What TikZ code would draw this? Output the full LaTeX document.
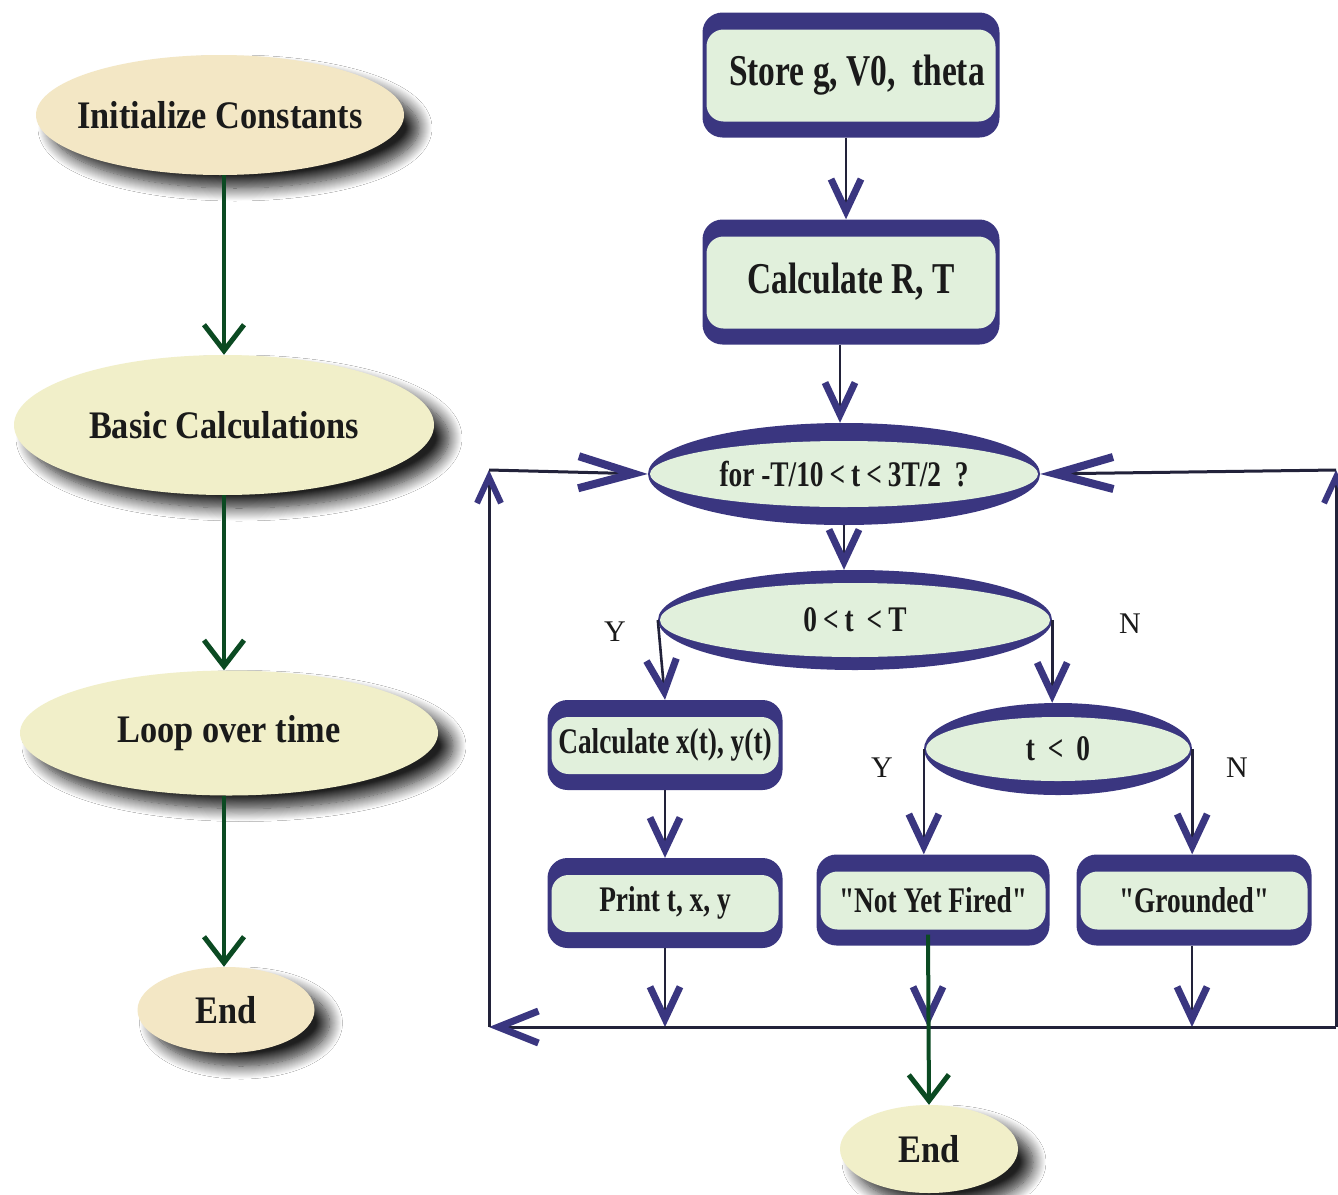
\documentclass[tikz,border=0pt]{standalone}
\usepackage{fontspec}
\setmainfont{Liberation Serif}
\newfontfamily\lfont[FakeStretch=0.88]{Liberation Serif}
\newfontfamily\rfont[FakeStretch=0.76]{Liberation Serif}
\usetikzlibrary{shapes.geometric,arrows.meta,shadows.blur,calc}
\definecolor{navy}{HTML}{3A3680}
\definecolor{mint}{HTML}{E1F0DC}
\definecolor{beige}{HTML}{F3E7C5}
\definecolor{cream}{HTML}{F1EFC9}
\definecolor{dkgreen}{HTML}{0B4A22}
\definecolor{lineblk}{HTML}{22223A}
\definecolor{txt}{HTML}{1A1A1A}
\tikzset{
  lell/.style={ellipse, inner sep=0pt, text=txt, font=\lfont\bfseries\fontsize{39}{44}\selectfont,
    blur shadow={shadow xshift=15pt, shadow yshift=-13pt, shadow blur radius=13pt, shadow blur steps=14, shadow opacity=88}},
  dbox/.style={rectangle, rounded corners=20pt, fill=navy, inner sep=0pt, text=txt,
    font=\rfont\bfseries\fontsize{36}{40}\selectfont,
    path picture={\fill[mint, rounded corners=17pt]
      ([xshift=4pt,yshift=16pt]path picture bounding box.south west) rectangle
      ([xshift=-4pt,yshift=-17pt]path picture bounding box.north east);}},
  dell/.style 2 args={ellipse, fill=navy, inner sep=0pt, text=txt,
    font=\rfont\bfseries\fontsize{36}{40}\selectfont,
    path picture={\fill[mint] (path picture bounding box.center) ellipse [x radius=#1, y radius=#2];}},
  yn/.style={font=\rmfamily\fontsize{30}{34}\selectfont, text=txt, inner sep=0pt},
  garr/.style={draw=dkgreen, line width=4pt, -{Straight Barb[length=26pt,width=40pt,line width=5pt 0]}},
  narr/.style={draw=lineblk, line width=2.6pt, -{Straight Barb[length=32pt,width=30pt,line width=7pt 0,color=navy]}},
  lpline/.style={draw=lineblk, line width=3pt},
}
\newcommand{\zw}[1]{\makebox[0pt]{#1}}
\begin{document}
\begin{tikzpicture}[x=1pt,y=-1pt]
\useasboundingbox (0,0) rectangle (1338,1194);
\fill[white] (0,0) rectangle (1338,1194);

% left column
\node[lell, fill=beige, minimum width=368pt, minimum height=120pt] (init) at (220,115) {\zw{Initialize Constants}};
\node[lell, fill=cream, minimum width=420pt, minimum height=140pt] (basic) at (224,425) {\zw{Basic Calculations}};
\node[lell, fill=cream, minimum width=418pt, minimum height=125pt] (loop) at (229,733) {\zw{Loop over time}};
\node[lell, fill=beige, minimum width=177pt, minimum height=86pt] (endl) at (226,1010) {\zw{End}};
\coordinate (gx) at (224,0);
\draw[garr] (gx |- init.south) -- (gx |- basic.north);
\draw[garr] (gx |- basic.south) -- (gx |- loop.north);
\draw[garr] (gx |- loop.south) -- (gx |- endl.north);

% right column
\node[dbox, minimum width=297pt, minimum height=125pt, font=\rfont\bfseries\fontsize{44}{48}\selectfont] (store) at (851,75) {\hspace*{12pt}Store g, V0,\ \ theta};
\node[dbox, minimum width=297pt, minimum height=125pt, font=\rfont\bfseries\fontsize{44}{48}\selectfont] (calcrt) at (851,282) {Calculate R, T};
\node[dell={194pt}{33pt}, minimum width=392pt, minimum height=102pt] (for) at (844,474) {\zw{for -T/10\,<\,t\,<\,3T/2\ \ ?}};
\node[dell={195pt}{37pt}, minimum width=394pt, minimum height=100pt] (ctt) at (855,620) {\zw{0\,<\,t\ \,<\,T}};
\node[dbox, minimum width=235pt, minimum height=90pt] (calcxy) at (665,745) {Calculate x(t), y(t)};
\node[dbox, minimum width=235pt, minimum height=90pt] (print) at (665,903) {Print t, x, y};
\node[dell={132pt}{32pt}, minimum width=268pt, minimum height=92pt] (tz) at (1058,749) {\zw{t\ \,<\ \,0}};
\node[dbox, minimum width=233pt, minimum height=91pt] (nyf) at (933,900) {"Not Yet Fired"};
\node[dbox, minimum width=235pt, minimum height=91pt] (grd) at (1194,900) {"Grounded"};
\node[lell, fill=cream, minimum width=178pt, minimum height=88pt] (endr) at (929,1149) {\zw{End}};

% labels
\node[yn] (y1) at (615,632) {Y};
\node[yn] (n1) at (1130,624) {N};
\node[yn] (y2) at (882,768) {Y};
\node[yn] (n2) at (1237,768) {N};

% loop coordinates
\coordinate (pl) at (665,1027);
\coordinate (nl) at (928,1027);
\coordinate (gl) at (1192,1027);
\coordinate (rb) at (1336,1027);
\coordinate (lb) at (489,1027);
\coordinate (lt) at (489,470);
\coordinate (rt) at (1336,470);

% connectors
\draw[narr] ([xshift=-5pt]store.south) -- ([xshift=-5pt]calcrt.north);
\draw[narr] ([xshift=-11pt]calcrt.south) -- ([xshift=-11pt]calcrt.south |- for.north);
\draw[narr] (for.south) -- (for.south |- ctt.north);
\draw[narr] (ctt.west) -- (calcxy.north);
\draw[narr] (ctt.east) -- (ctt.east |- tz.north);
\draw[narr] (calcxy.south) -- (print.north);
\draw[narr] (tz.west) -- (tz.west |- nyf.north);
\draw[narr] (tz.east) -- (tz.east |- grd.north);
\draw[narr] (print.south) -- (pl);
\draw[narr] ([xshift=-5pt]nyf.south) -- (nl);
\draw[narr] ([xshift=-2pt]grd.south) -- (gl);

\draw[lpline, -{Straight Barb[length=40pt,width=32pt,line width=7pt 0,color=navy]}] (rb) -- (lb);
\draw[lpline, -{Straight Barb[length=26pt,width=24pt,line width=6pt 0,color=navy]}] (lb) -- (lt);
\draw[lpline, -{Straight Barb[length=55pt,width=32pt,line width=8pt 0,color=navy]}] (lt) -- (for.west);
\draw[lpline, -{Straight Barb[length=26pt,width=24pt,line width=6pt 0,color=navy]}] (rb) -- (rt);
\draw[lpline, -{Straight Barb[length=58pt,width=32pt,line width=8pt 0,color=navy]}] (rt) -- (for.east);

\draw[garr] ([xshift=-5pt,yshift=11pt]nyf.south) -- (endr.north);
\end{tikzpicture}
\end{document}
